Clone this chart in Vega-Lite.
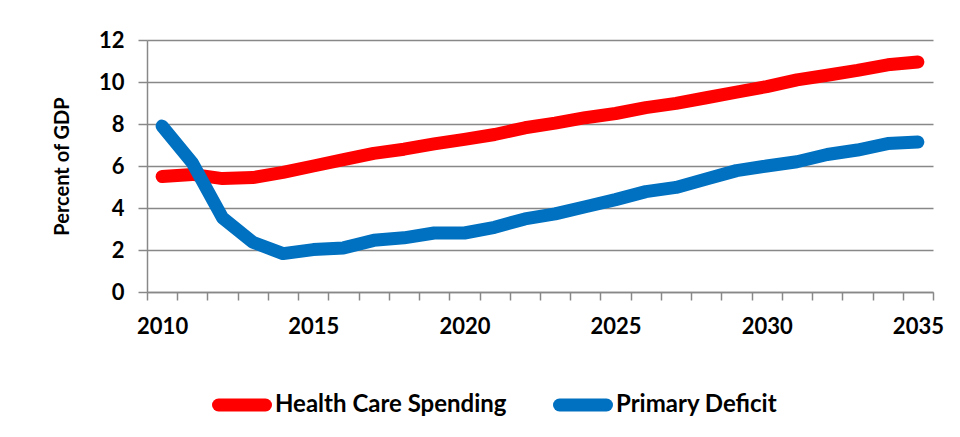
{
  "$schema": "https://vega.github.io/schema/vega-lite/v6.json",
  "width": 786,
  "height": 252,
  "autosize": {"type": "none"},
  "padding": {"left": 147, "top": 40, "right": 27, "bottom": 145},
  "background": "#ffffff",
  "config": {
    "view": {"stroke": null},
    "font": "Lato",
    "axis": {"labelFont": "Lato", "titleFont": "Lato", "labelColor": "#000000", "titleColor": "#000000"}
  },
  "data": {
    "values": [
      {"year": 2010, "series": "Health Care Spending", "value": 5.5},
      {"year": 2011, "series": "Health Care Spending", "value": 5.6},
      {"year": 2012, "series": "Health Care Spending", "value": 5.4},
      {"year": 2013, "series": "Health Care Spending", "value": 5.45},
      {"year": 2014, "series": "Health Care Spending", "value": 5.7},
      {"year": 2015, "series": "Health Care Spending", "value": 6.0},
      {"year": 2016, "series": "Health Care Spending", "value": 6.3},
      {"year": 2017, "series": "Health Care Spending", "value": 6.6},
      {"year": 2018, "series": "Health Care Spending", "value": 6.8},
      {"year": 2019, "series": "Health Care Spending", "value": 7.05},
      {"year": 2020, "series": "Health Care Spending", "value": 7.27},
      {"year": 2021, "series": "Health Care Spending", "value": 7.5},
      {"year": 2022, "series": "Health Care Spending", "value": 7.82},
      {"year": 2023, "series": "Health Care Spending", "value": 8.04},
      {"year": 2024, "series": "Health Care Spending", "value": 8.3},
      {"year": 2025, "series": "Health Care Spending", "value": 8.5},
      {"year": 2026, "series": "Health Care Spending", "value": 8.78},
      {"year": 2027, "series": "Health Care Spending", "value": 8.98},
      {"year": 2028, "series": "Health Care Spending", "value": 9.25},
      {"year": 2029, "series": "Health Care Spending", "value": 9.52},
      {"year": 2030, "series": "Health Care Spending", "value": 9.78},
      {"year": 2031, "series": "Health Care Spending", "value": 10.1},
      {"year": 2032, "series": "Health Care Spending", "value": 10.32},
      {"year": 2033, "series": "Health Care Spending", "value": 10.55},
      {"year": 2034, "series": "Health Care Spending", "value": 10.82},
      {"year": 2035, "series": "Health Care Spending", "value": 10.95},
      {"year": 2010, "series": "Primary Deficit", "value": 7.9},
      {"year": 2011, "series": "Primary Deficit", "value": 6.15},
      {"year": 2012, "series": "Primary Deficit", "value": 3.53},
      {"year": 2013, "series": "Primary Deficit", "value": 2.37},
      {"year": 2014, "series": "Primary Deficit", "value": 1.83},
      {"year": 2015, "series": "Primary Deficit", "value": 2.02},
      {"year": 2016, "series": "Primary Deficit", "value": 2.1},
      {"year": 2017, "series": "Primary Deficit", "value": 2.46},
      {"year": 2018, "series": "Primary Deficit", "value": 2.58},
      {"year": 2019, "series": "Primary Deficit", "value": 2.81},
      {"year": 2020, "series": "Primary Deficit", "value": 2.81},
      {"year": 2021, "series": "Primary Deficit", "value": 3.08},
      {"year": 2022, "series": "Primary Deficit", "value": 3.48},
      {"year": 2023, "series": "Primary Deficit", "value": 3.72},
      {"year": 2024, "series": "Primary Deficit", "value": 4.06},
      {"year": 2025, "series": "Primary Deficit", "value": 4.4},
      {"year": 2026, "series": "Primary Deficit", "value": 4.78},
      {"year": 2027, "series": "Primary Deficit", "value": 4.98},
      {"year": 2028, "series": "Primary Deficit", "value": 5.38},
      {"year": 2029, "series": "Primary Deficit", "value": 5.78},
      {"year": 2030, "series": "Primary Deficit", "value": 6.0},
      {"year": 2031, "series": "Primary Deficit", "value": 6.2},
      {"year": 2032, "series": "Primary Deficit", "value": 6.55},
      {"year": 2033, "series": "Primary Deficit", "value": 6.76},
      {"year": 2034, "series": "Primary Deficit", "value": 7.07},
      {"year": 2035, "series": "Primary Deficit", "value": 7.14}
    ]
  },
  "encoding": {
    "y": {
      "field": "value",
      "type": "quantitative",
      "scale": {"domain": [0, 12], "nice": false},
      "axis": {
        "title": "Percent of GDP",
        "titleFontSize": 20,
        "titleFontWeight": "bold",
        "titlePadding": 26,
        "values": [0, 2, 4, 6, 8, 10, 12],
        "labelFontSize": 22,
        "labelFontWeight": "bold",
        "labelPadding": 14,
        "tickSize": 9,
        "tickColor": "#888888",
        "tickWidth": 1.5,
        "domainColor": "#888888",
        "domainWidth": 1.5,
        "grid": true,
        "gridColor": "#888888",
        "gridWidth": 1.5
      }
    }
  },
  "layer": [
    {
      "mark": {"type": "line", "strokeOpacity": 0, "strokeWidth": 1},
      "encoding": {
        "x": {
          "field": "year",
          "type": "quantitative",
          "scale": {"domain": [2009.5, 2035.5], "nice": false, "zero": false},
          "axis": {
            "orient": "bottom",
            "title": null,
            "grid": false,
            "labels": false,
            "values": [2009.5, 2010.5, 2011.5, 2012.5, 2013.5, 2014.5, 2015.5, 2016.5, 2017.5, 2018.5, 2019.5, 2020.5, 2021.5, 2022.5, 2023.5, 2024.5, 2025.5, 2026.5, 2027.5, 2028.5, 2029.5, 2030.5, 2031.5, 2032.5, 2033.5, 2034.5, 2035.5],
            "tickSize": 8,
            "tickColor": "#888888",
            "tickWidth": 1.5,
            "domainColor": "#888888",
            "domainWidth": 1.5
          }
        },
        "detail": {"field": "series", "type": "nominal"}
      }
    },
    {
      "mark": {"type": "line", "strokeWidth": 13, "strokeCap": "round", "strokeJoin": "round", "clip": false},
      "encoding": {
        "x": {
          "field": "year",
          "type": "quantitative",
          "scale": {"domain": [2009.5, 2035.5], "nice": false, "zero": false},
          "axis": {
            "orient": "bottom",
            "title": null,
            "grid": false,
            "ticks": false,
            "domain": false,
            "values": [2010, 2015, 2020, 2025, 2030, 2035],
            "format": "d",
            "labelFontSize": 22,
            "labelFontWeight": "bold",
            "labelPadding": 24,
            "labelOverlap": false,
            "labelFlush": false,
            "labelBound": false
          }
        },
        "color": {
          "field": "series",
          "type": "nominal",
          "scale": {"domain": ["Health Care Spending", "Primary Deficit"], "range": ["#ff0000", "#0070c0"]},
          "legend": {
            "title": null,
            "orient": "none",
            "direction": "horizontal",
            "legendX": 65,
            "legendY": 335,
            "symbolType": "stroke",
            "symbolSize": 2209,
            "symbolStrokeWidth": 13,
            "labelFont": "Lato",
            "labelFontSize": 24,
            "labelFontWeight": "bold",
            "labelColor": "#000000",
            "labelOffset": 3,
            "columnPadding": 26,
            "labelLimit": 400,
            "encode": {"symbols": {"update": {"strokeCap": {"value": "round"}}}}
          }
        }
      }
    }
  ],
  "resolve": {"axis": {"x": "independent"}}
}
